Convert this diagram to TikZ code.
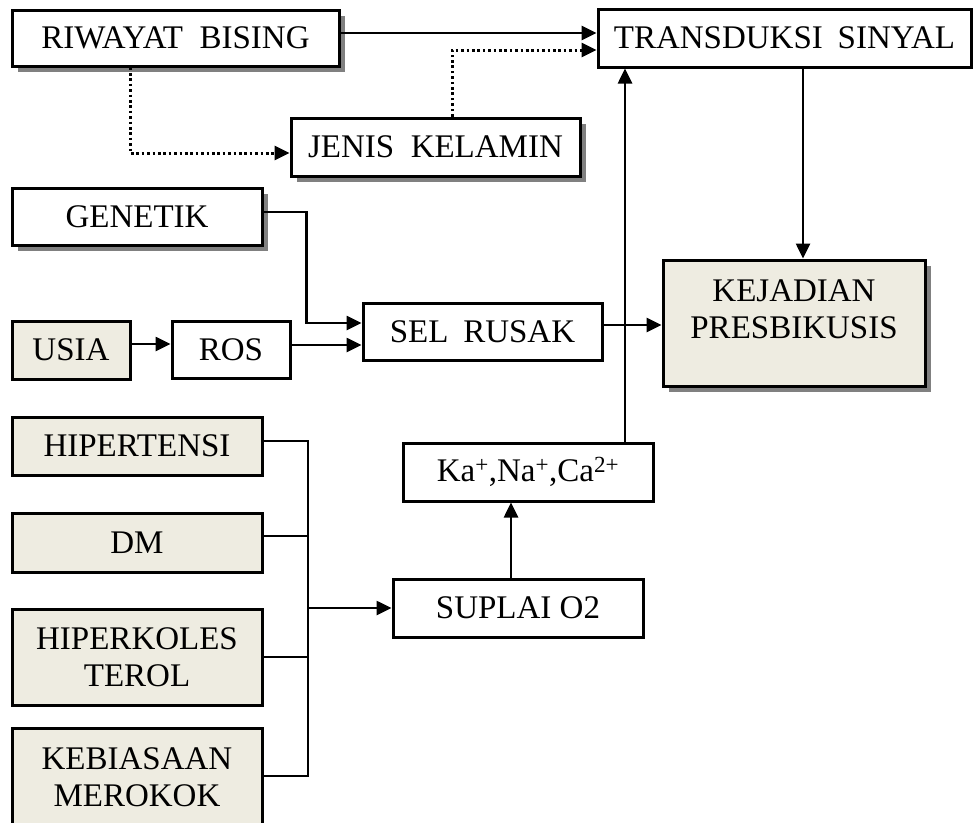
\documentclass[tikz,border=0pt]{standalone}
\usepackage{fontspec}
\setmainfont{Liberation Serif}
\usetikzlibrary{arrows.meta,shadows}
\definecolor{beige}{HTML}{EEECE1}
\definecolor{shade}{HTML}{808080}
\begin{document}
\begin{tikzpicture}[x=1pt,y=-1pt,
  box/.style={draw=black,line width=3pt,fill=white,inner sep=0pt,align=center,
    font=\fontsize{33}{37}\selectfont},
  tan/.style={fill=beige},
  shad/.style={drop shadow={shadow xshift=6pt,shadow yshift=-6pt,fill=shade,opacity=1}},
  conn/.style={line width=2.6pt,line join=miter},
  arr/.style={conn,-{Triangle[length=15pt,width=14pt]}},
  dotarr/.style={line width=3pt,dash pattern=on 2.6pt off 2.8pt,-{Triangle[length=15pt,width=14pt]}}]
\useasboundingbox (0,0) rectangle (974,822);
% nodes
\node[box,shad,minimum width=327pt,minimum height=56pt] (riw) at (175.5,38) {RIWAYAT\hspace{0.5em}BISING};
\node[box,minimum width=373pt,minimum height=58pt] (tra) at (784.5,38) {TRANSDUKSI\hspace{0.45em}SINYAL};
\node[box,shad,minimum width=289pt,minimum height=58pt] (jen) at (435.5,147) {JENIS\hspace{0.5em}KELAMIN};
\node[box,shad,minimum width=250pt,minimum height=57pt] (gen) at (137,216.5) {GENETIK};
\node[box,tan,minimum width=118pt,minimum height=58pt] (usia) at (71,350) {USIA};
\node[box,minimum width=118pt,minimum height=57pt] (ros) at (231,349.5) {ROS};
\node[box,minimum width=239pt,minimum height=57pt] (sel) at (482.5,331.5) {SEL\hspace{0.45em}RUSAK};
\node[box,tan,shad,minimum width=262pt,minimum height=126pt,text depth=28pt] (kej) at (794,323) {KEJADIAN\\PRESBIKUSIS};
\node[box,tan,minimum width=250pt,minimum height=58pt] (hip) at (137,446) {HIPERTENSI};
\node[box,tan,minimum width=250pt,minimum height=59pt] (dm) at (137,542.5) {DM};
\node[box,tan,minimum width=250pt,minimum height=96pt] (kol) at (137,657) {HIPERKOLES\\TEROL};
\node[box,tan,minimum width=250pt,minimum height=99pt] (keb) at (137,777.5) {KEBIASAAN\\MEROKOK};
\node[box,minimum width=250pt,minimum height=58pt] (ka) at (528,472) {Ka\textsuperscript{+},Na\textsuperscript{+},Ca\textsuperscript{2+}};
\node[box,minimum width=250pt,minimum height=58pt] (sup) at (518,608) {SUPLAI O2};
\coordinate (bm) at (308,608);
% connectors
\draw[arr] ([yshift=5pt]riw.east) -- ([yshift=5pt]riw.east -| tra.west);
\draw[dotarr] ([xshift=-45.5pt]riw.south) |- ([yshift=-6pt]jen.west);
\draw[dotarr] ([xshift=16.5pt]jen.north) |- ([yshift=-12pt]tra.west);
\draw[arr] ([xshift=18.5pt]tra.south) -- ([xshift=18.5pt]tra.south |- kej.north);
\draw[arr] ([yshift=4.5pt]gen.east) -- ++(43,0) |- ([yshift=8.5pt]sel.west);
\draw[arr] ([yshift=6pt]usia.east) -- ([yshift=6pt]usia.east -| ros.west);
\draw[arr] ([yshift=4.5pt]ros.east) -- ([yshift=4.5pt]ros.east -| sel.west);
\draw[arr] ([yshift=6.5pt]sel.east) -- ([yshift=6.5pt]sel.east -| kej.west);
\draw[arr] ([xshift=97pt]ka.north) -- ([xshift=97pt]ka.north |- tra.south);
\draw[arr] ([xshift=-7pt]sup.north) -- ([xshift=-7pt]sup.north |- ka.south);
\draw[conn] ([yshift=5pt]hip.east) -- ([yshift=5pt]hip.east -| bm) -- ([yshift=1.5pt]keb.east -| bm) -- ([yshift=1.5pt]keb.east);
\draw[conn] ([yshift=6.5pt]dm.east) -- ([yshift=6.5pt]dm.east -| bm);
\draw[conn] (kol.east) -- (kol.east -| bm);
\draw[arr] (bm) -- (sup.west);
\end{tikzpicture}
\end{document}
